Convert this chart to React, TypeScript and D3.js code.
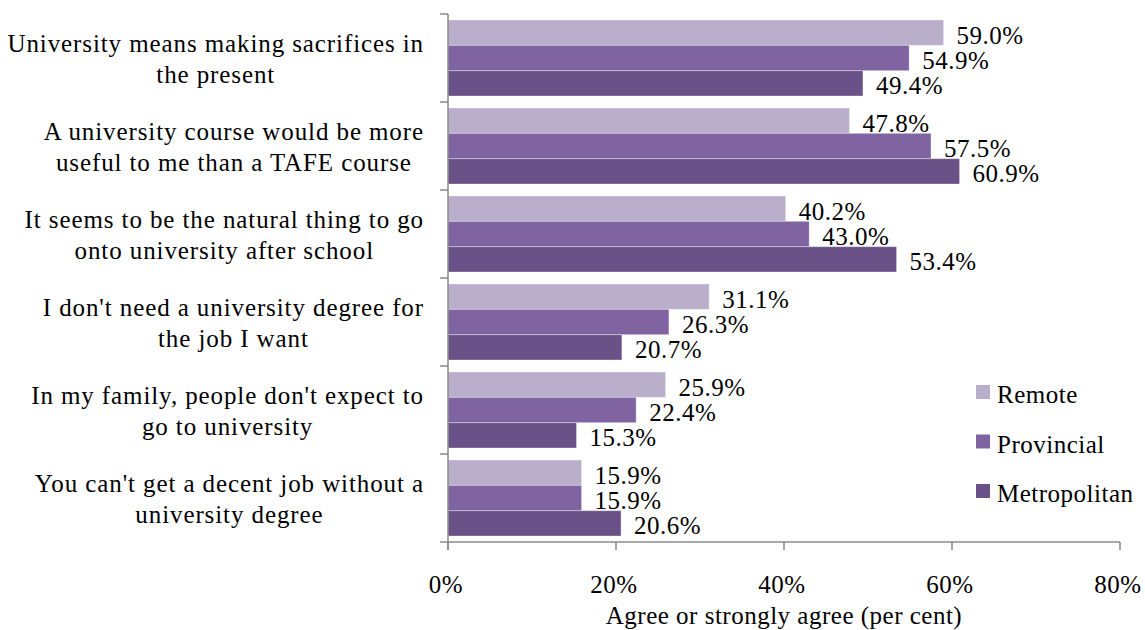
import React, { useEffect, useRef } from "react";
import * as d3 from "d3";

const categories: string[][] = [
  ["University means making sacrifices in", "the present"],
  ["A university course would be more", "useful to me than a TAFE course"],
  ["It seems to be the natural thing to go", "onto university after school"],
  ["I don't need a university degree for", "the job I want"],
  ["In my family, people don't expect to", "go to university"],
  ["You can't get a decent job without a", "university degree"],
];
const seriesNames = ["Remote", "Provincial", "Metropolitan"];
const remote = [59.0, 47.8, 40.2, 31.1, 25.9, 15.9];
const provincial = [54.9, 57.5, 43.0, 26.3, 22.4, 15.9];
const metropolitan = [49.4, 60.9, 53.4, 20.7, 15.3, 20.6];
const xTicks = [0, 20, 40, 60, 80];
const colors = ["#B9AFCB", "#8064A2", "#6A5187"];
const axisTitle = "Agree or strongly agree (per cent)";

const W = 1145;
const H = 630;
const FONT = "'Liberation Serif', 'DejaVu Serif Condensed', 'DejaVu Serif', serif";
const FS = 25;

export default function App() {
  const ref = useRef<SVGSVGElement>(null);
  useEffect(() => {
    const svg = d3.select(ref.current);
    svg.selectAll("*").remove();
    const values = [remote, provincial, metropolitan];
    const x = d3.scaleLinear().domain([0, 80]).range([448, 1120]);
    const y = d3
      .scaleBand<number>()
      .domain(d3.range(categories.length))
      .range([14, 542])
      .paddingInner(0.136)
      .paddingOuter(0.068);
    const ys = d3
      .scaleBand<number>()
      .domain(d3.range(seriesNames.length))
      .range([0, y.bandwidth()]);
    const step = y.step();
    const axisColor = "#8A8A8A";

    const g = svg
      .append("g")
      .style("font-family", FONT)
      .style("font-stretch", "condensed")
      .style("font-size", FS + "px")
      .style("letter-spacing", "0.5px");
    // bars
    values.forEach((vals, s) => {
      g.selectAll(null)
        .data(vals)
        .enter()
        .append("rect")
        .attr("x", x(0))
        .attr("y", (_d, i) => (y(i) as number) + (ys(s) as number))
        .attr("width", (d) => x(d) - x(0))
        .attr("height", ys.bandwidth())
        .attr("fill", colors[s])
        .attr("stroke", "rgba(255,255,255,0.35)")
        .attr("stroke-width", 1);
      g.selectAll(null)
        .data(vals)
        .enter()
        .append("text")
        .attr("x", (d) => x(d) + 13)
        .attr("y", (_d, i) => (y(i) as number) + (ys(s) as number) + ys.bandwidth() / 2 + 11)
        .attr("fill", "#000")
        .text((d) => d.toFixed(1) + "%");
    });

    // axes
    const y0 = 14;
    const y1 = 14 + step * categories.length;
    g.append("line")
      .attr("x1", x(0)).attr("x2", x(0))
      .attr("y1", y0).attr("y2", y1 + 8)
      .attr("stroke", axisColor).attr("stroke-width", 1.5);
    d3.range(categories.length + 1).forEach((i) => {
      const yy = y0 + i * step;
      g.append("line")
        .attr("x1", x(0) - 8).attr("x2", x(0))
        .attr("y1", yy).attr("y2", yy)
        .attr("stroke", axisColor).attr("stroke-width", 1.5);
    });
    g.append("line")
      .attr("x1", x(0)).attr("x2", x(80))
      .attr("y1", y1).attr("y2", y1)
      .attr("stroke", axisColor).attr("stroke-width", 1.5);
    xTicks.forEach((t) => {
      g.append("line")
        .attr("x1", x(t)).attr("x2", x(t))
        .attr("y1", y1).attr("y2", y1 + 8)
        .attr("stroke", axisColor).attr("stroke-width", 1.5);
      g.append("text")
        .attr("x", x(t) - 2)
        .attr("y", 593)
        .attr("text-anchor", "middle")
        .text(t + "%");
    });
    g.append("text")
      .attr("x", x(40))
      .attr("y", 624)
      .attr("text-anchor", "middle")
      .text(axisTitle);

    // category labels
    categories.forEach((lines, i) => {
      const cy = (y(i) as number) - step * 0.068 + step / 2;
      const tg = g.append("g").style("letter-spacing", "0.9px");
      const texts = lines.map((ln, k) =>
        tg.append("text")
          .attr("y", cy - 6 + k * 31)
          .attr("text-anchor", "middle")
          .text(ln)
      );
      const widths = texts.map((t) => (t.node() as SVGTextElement).getComputedTextLength());
      const maxW = Math.max(...widths);
      const cx = 424 - maxW / 2;
      texts.forEach((t) => t.attr("x", cx));
    });

    // legend
    seriesNames.forEach((name, s) => {
      const ly = 385 + s * 49.5;
      g.append("rect")
        .attr("x", 976).attr("y", ly)
        .attr("width", 14).attr("height", 14)
        .attr("fill", colors[s]);
      g.append("text")
        .attr("x", 997).attr("y", ly + 18)
        .text(name);
    });
  }, []);
  return (
    <svg
      ref={ref}
      width={W}
      height={H}
      style={{ position: "absolute", left: 0, top: 0, background: "#fff" }}
    />
  );
}
